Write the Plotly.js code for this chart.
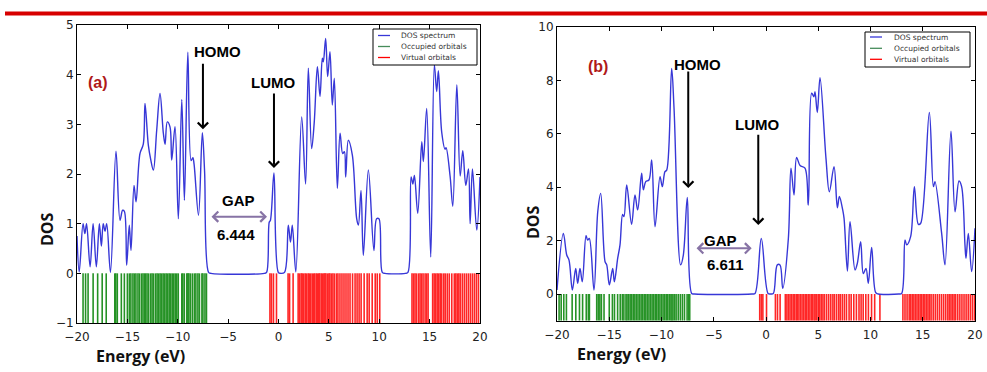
<!DOCTYPE html>
<html><head><meta charset="utf-8">
<script src="https://cdn.plot.ly/plotly-3.0.1.min.js"></script>
<style>html,body{margin:0;padding:0;background:#fff;}#chart{width:987px;height:372px;}</style>
</head><body><div id="chart"></div>
<script>
// ---------- data ----------
const energyTicks = [-20, -15, -10, -5, 0, 5, 10, 15, 20];
const dosTicksA = [-1, 0, 1, 2, 3, 4, 5];
const dosTicksB = [0, 2, 4, 6, 8, 10];
const legendLabels = ['DOS spectrum', 'Occupied orbitals', 'Virtual orbitals'];
const gapA = 6.444;
const gapB = 6.611;

// panel (a) DOS spectrum
const dosEnergyA = [-20, -19.78, -19.4, -19.22, -19.05, -18.7, -18.4, -18.08, -17.78, -17.58,
  -17.4, -17.22, -17.05, -16.68, -16.13, -15.73, -15.47, -15.3, -15.07, -14.81,
  -14.64, -14.34, -14.14, -13.75, -13.42, -13.25, -12.92, -12.69, -12.42, -12.09,
  -11.76, -11.43, -11.26, -11.04, -10.77, -10.6, -10.27, -9.94, -9.6, -9.34,
  -9.0, -8.67, -8.5, -8.38, -7.94, -7.56, -7.34, -6.94, -6.7, -1.4,
  -1.18, -0.92, -0.8, -0.45, -0.02, 0.2, 0.6, 0.97, 1.19, 1.37,
  1.72, 2.3, 2.69, 2.96, 3.29, 3.55, 3.86, 4.12, 4.35, 4.45,
  4.68, 4.88, 5.11, 5.34, 5.54, 5.84, 6.11, 6.37, 6.54, 6.67,
  6.93, 7.33, 7.76, 7.93, 8.19, 8.42, 8.92, 9.47, 9.74, 9.97,
  10.3, 10.55, 12.6, 12.85, 13.16, 13.33, 13.49, 13.82, 14.22, 14.38,
  14.71, 15.11, 15.47, 15.7, 15.87, 16.2, 16.53, 16.63, 17.03, 17.3,
  17.7, 18.03, 18.29, 18.59, 18.86, 19.02, 19.25, 19.68, 20];
const dosValueA = [0.75, 0.03, 1.0, 0.8, 1.0, 0.13, 1.0, 0.13, 1.0, 0.55,
  1.0, 0.85, 1.0, 0.02, 2.46, 1.07, 1.27, 1.25, 0.16, 0.97,
  0.46, 1.77, 1.44, 2.41, 2.6, 3.42, 2.58, 2.3, 2.08, 2.88,
  3.62, 2.82, 2.6, 3.05, 2.95, 2.28, 2.95, 1.1, 3.5, 1.47,
  4.45, 2.27, 2.33, 2.2, 1.17, 2.83, 2.07, 0.02, 0, 0,
  0.02, 1.03, 1.07, 2.02, 0.02, 0, 0.02, 0.97, 0.63, 0.97,
  0.03, 3.15, 1.8, 4.13, 2.51, 3.05, 4.16, 3.56, 4.33, 4.26,
  4.73, 3.96, 4.46, 3.39, 3.93, 1.71, 2.82, 2.41, 2.45, 1.94,
  2.68, 2.38, 1.1, 0.97, 1.67, 0.36, 2.08, 0.46, 1.1, 1.1,
  0.02, 0, 0, 0.02, 1.94, 1.8, 1.97, 1.21, 2.65, 2.25,
  3.32, 0.33, 4.2, 3.66, 4.08, 2.84, 2.5, 2.53, 1.96, 1.35,
  3.8, 1.96, 2.47, 1.77, 2.1, 1.0, 2.1, 0.87, 1.94];
const occupiedA = [-19.4, -19.15, -18.9, -18.4, -17.95, -17.5, -17.1, -16.25, -16.15, -16.0,
  -15.6, -15.3, -15.0, -14.8, -14.65, -14.45, -14.3, -14.15, -13.95, -13.8,
  -13.6, -13.45, -13.3, -13.2, -13.05, -12.9, -12.7, -12.55, -12.4, -12.2,
  -12.05, -11.9, -11.75, -11.6, -11.45, -11.3, -11.15, -11.0, -10.85, -10.7,
  -10.55, -10.4, -10.25, -10.1, -9.95, -9.6, -9.5, -9.35, -9.1, -9.0,
  -8.9, -8.75, -8.55, -8.35, -8.2, -8.0, -7.85, -7.6, -7.5, -7.3, -7.15];
const virtualA = [-0.85, -0.7, -0.5, -0.2, 0.95, 1.1, 1.45, 1.95, 2.1, 2.25,
  2.35, 2.5, 2.65, 2.8, 2.95, 3.05, 3.2, 3.35, 3.5, 3.6,
  3.75, 3.85, 4.0, 4.1, 4.25, 4.35, 4.5, 4.6, 4.7, 4.85,
  5.0, 5.1, 5.25, 5.4, 5.55, 5.75, 5.9, 6.1, 6.3, 6.5,
  6.7, 6.9, 7.1, 7.35, 7.6, 7.8, 8.0, 8.2, 8.5, 8.8,
  9.0, 9.3, 9.6, 9.8, 10.05, 13.25, 13.4, 13.55, 13.7, 13.9,
  14.05, 14.2, 14.35, 14.55, 14.7, 14.85, 15.3, 15.45, 15.6, 15.75,
  15.9, 16.05, 16.2, 16.4, 16.55, 16.75, 16.95, 17.2, 17.45, 17.6,
  17.75, 17.9, 18.05, 18.25, 18.45, 18.65, 18.85, 19.05, 19.25, 19.45, 19.65, 19.85];

// panel (b) DOS spectrum
const dosEnergyB = [-20, -19.39, -19.07, -18.85, -18.53, -18.21, -18.02, -17.8, -17.58, -17.22,
  -17.07, -16.91, -16.46, -16.1, -15.82, -15.4, -15.24, -14.99, -14.67, -14.51,
  -14.19, -13.97, -13.72, -13.59, -13.33, -12.86, -12.54, -12.28, -11.9, -11.74,
  -11.51, -11.2, -10.94, -10.62, -10.14, -9.92, -9.67, -9.5, -9.03, -8.8,
  -8.17, -7.91, -7.53, -7.11, -6.85, -1.35, -1.05, -0.45, 0.2, 0.45,
  0.7, 1.08, 1.34, 1.6, 2.14, 2.39, 2.68, 2.93, 3.26, 3.73,
  4.05, 4.37, 4.59, 4.69, 4.91, 5.17, 5.74, 6.06, 6.51, 6.83,
  7.02, 7.34, 7.47, 7.79, 8.04, 8.52, 8.74, 9.06, 9.31, 9.57,
  9.79, 10.11, 10.5, 10.75, 12.7, 12.98, 13.3, 13.46, 13.84, 14.2,
  14.58, 14.8, 15.63, 16.02, 16.17, 16.81, 17.13, 17.7, 18.09, 18.47,
  18.72, 19.04, 19.14, 19.36, 19.68, 20];
const dosValueB = [0.15, 2.27, 1.46, 1.27, 0.15, 0.96, 0.4, 0.96, 0.46, 2.18,
  2.02, 2.08, 0.15, 3.08, 3.77, 1.21, 1.09, 0.34, 0.96, 0.46,
  1.34, 1.84, 2.98, 2.9, 4.08, 2.61, 3.71, 3.15, 4.52, 3.9,
  4.21, 4.27, 5.02, 2.52, 4.39, 4.02, 4.58, 4.64, 8.45, 6.95,
  1.09, 1.46, 3.62, 0.02, 0, 0, 0.02, 2.08, 0.02, 0,
  0.02, 1.09, 1.09, 0.21, 2.08, 4.71, 3.71, 5.11, 4.81, 4.71,
  3.33, 7.52, 7.39, 7.58, 6.8, 8.1, 5.08, 3.83, 4.77, 3.23,
  3.65, 3.15, 2.83, 0.86, 2.71, 0.9, 1.15, 1.96, 0.77, 0.96,
  0.4, 1.74, 0.05, 0, 0, 0.02, 2.02, 1.84, 2.15, 4.02,
  2.61, 2.65, 6.8, 4.02, 4.21, 2.27, 1.09, 6.1, 3.08, 4.23,
  4.02, 1.84, 1.34, 2.27, 0.84, 2.46];
const occupiedB = [-19.8, -19.6, -19.35, -19.1, -18.55, -18.2, -17.85, -17.55, -17.2, -17.0,
  -16.9, -16.2, -16.05, -15.9, -15.75, -15.5, -15.0, -14.7, -14.5, -14.2,
  -13.95, -13.75, -13.6, -13.4, -13.3, -13.15, -13.0, -12.85, -12.7, -12.55,
  -12.4, -12.25, -12.1, -11.95, -11.8, -11.65, -11.5, -11.35, -11.2, -11.05,
  -10.9, -10.75, -10.6, -10.45, -10.3, -10.15, -10.0, -9.85, -9.7, -9.55,
  -9.4, -9.25, -9.1, -9.0, -8.9, -8.75, -8.6, -8.4, -8.2, -8.0,
  -7.8, -7.55, -7.4, -7.3];
const virtualB = [-0.6, -0.45, -0.3, 0.05, 0.9, 1.1, 1.35, 1.85, 2.0, 2.15,
  2.3, 2.45, 2.6, 2.75, 2.9, 3.0, 3.15, 3.3, 3.45, 3.6,
  3.75, 3.9, 4.05, 4.2, 4.35, 4.45, 4.6, 4.7, 4.85, 5.0,
  5.15, 5.3, 5.45, 5.6, 5.8, 6.0, 6.2, 6.4, 6.55, 6.75,
  6.95, 7.1, 7.3, 7.5, 7.7, 7.95, 8.15, 8.4, 8.65, 8.9,
  9.1, 9.3, 9.55, 9.8, 10.1, 10.4, 10.9, 13.1, 13.3, 13.5,
  13.7, 13.85, 14.0, 14.15, 14.3, 14.45, 14.6, 14.75, 14.9, 15.05,
  15.2, 15.35, 15.5, 15.65, 15.8, 16.0, 16.2, 16.4, 16.6, 16.8,
  17.0, 17.2, 17.4, 17.55, 17.7, 17.85, 18.0, 18.15, 18.35, 18.55,
  18.75, 18.95, 19.15, 19.35, 19.55, 19.75, 19.95];

// ---------- helpers ----------
const W = 987, H = 372;
const px = v => v / W;          // page pixel -> paper x (margins are 0)
const py = v => 1 - v / H;      // page pixel -> paper y

function sticks(energies) {
  const x = [], y = [];
  energies.forEach(e => { x.push(e, e, null); y.push(0, -1, null); });
  return {x, y};
}

const BLUE = 'rgb(55,55,215)';
const GREEN = 'rgb(0,128,0)';
const RED = 'rgb(255,0,0)';

function panelTraces(E, D, occ, virt, xa, ya) {
  const o = sticks(occ), v = sticks(virt);
  return [
    {x: o.x, y: o.y, xaxis: xa, yaxis: ya, type: 'scatter', mode: 'lines',
     line: {color: GREEN, width: 1.6}, opacity: 0.85, name: legendLabels[1], showlegend: false, hoverinfo: 'skip'},
    {x: v.x, y: v.y, xaxis: xa, yaxis: ya, type: 'scatter', mode: 'lines',
     line: {color: RED, width: 1.6}, opacity: 0.85, name: legendLabels[2], showlegend: false, hoverinfo: 'skip'},
    {x: E, y: D, xaxis: xa, yaxis: ya, type: 'scatter', mode: 'lines',
     line: {color: BLUE, width: 1.4, shape: 'spline', smoothing: 1.0}, name: legendLabels[0], showlegend: false}
  ];
}

const data = [
  ...panelTraces(dosEnergyA, dosValueA, occupiedA, virtualA, 'x', 'y'),
  ...panelTraces(dosEnergyB, dosValueB, occupiedB, virtualB, 'x2', 'y2')
];

const tickFont = {family: 'DejaVu Sans', size: 12, color: '#222'};
const minus = v => v < 0 ? '\u2212' + Math.abs(v) : String(v);
function xAxis(domain, anchor) {
  return {domain, anchor, range: [-20, 20], tickvals: energyTicks, ticktext: energyTicks.map(minus),
    ticks: 'inside', ticklen: 4, tickwidth: 1, tickcolor: '#000', showline: true, linecolor: '#000', linewidth: 1,
    mirror: 'ticks', showgrid: false, zeroline: false, tickfont: tickFont, fixedrange: true, ticklabelstandoff: 3};
}
function yAxis(domain, anchor, range, vals) {
  return {domain, anchor, range, tickvals: vals, ticktext: vals.map(minus),
    ticks: 'inside', ticklen: 4, tickwidth: 1, tickcolor: '#000', showline: true, linecolor: '#000', linewidth: 1,
    mirror: 'ticks', showgrid: false, zeroline: false, tickfont: tickFont, fixedrange: true};
}

const bold = (t) => '<b>' + t + '</b>';
const lblFont = {family: 'Liberation Sans', size: 15, color: '#000'};
const panelFont = {family: 'Liberation Sans', size: 16, color: 'rgb(175,25,25)'};
const titleFont = {family: 'Open Sans', size: 16, color: '#111'};
const legFont = {family: 'DejaVu Sans', size: 7.5, color: '#333'};
const GAPCOL = 'rgb(135,115,165)';

function txt(xr, yr, x, y, text, font, extra) {
  return Object.assign({xref: xr, yref: yr, x, y, text, font, showarrow: false, xanchor: 'center', yanchor: 'middle'}, extra || {});
}
function arrow(xr, yr, x, y, ax, ay, color, both) {
  const a = {xref: xr, yref: yr, x, y, ax, ay, axref: xr, ayref: yr, text: '', showarrow: true,
    arrowhead: 4, arrowsize: 1, arrowwidth: 2, arrowcolor: color, standoff: 0, startstandoff: 0};
  if (both) { a.arrowside = 'end+start'; a.startarrowhead = 4; a.startarrowsize = 1; }
  return a;
}

const annotations = [
  // panel (a)
  txt('x', 'y', -17.92, 3.85, bold('(a)'), panelFont),
  txt('x', 'y', -6.1, 4.46, bold('HOMO'), lblFont),
  arrow('x', 'y', -7.5, 2.9, -7.5, 4.25, '#000'),
  txt('x', 'y', -0.55, 3.85, bold('LUMO'), lblFont),
  arrow('x', 'y', -0.45, 2.12, -0.45, 3.65, '#000'),
  txt('x', 'y', -4.0, 1.46, bold('GAP'), lblFont),
  arrow('x', 'y', -1.14, 1.14, -6.8, 1.14, GAPCOL, true),
  txt('x', 'y', -4.2, 0.78, bold(gapA.toFixed(3)), lblFont),
  // panel (b)
  txt('x2', 'y2', -16.08, 8.51, bold('(b)'), panelFont),
  txt('x2', 'y2', -6.51, 8.58, bold('HOMO'), lblFont),
  arrow('x2', 'y2', -7.44, 3.97, -7.44, 8.39, '#000'),
  txt('x2', 'y2', -0.86, 6.33, bold('LUMO'), lblFont),
  arrow('x2', 'y2', -0.74, 2.58, -0.74, 6.02, '#000'),
  txt('x2', 'y2', -4.31, 2.02, bold('GAP'), lblFont),
  arrow('x2', 'y2', -1.37, 1.71, -6.79, 1.71, GAPCOL, true),
  txt('x2', 'y2', -3.83, 1.12, bold(gapB.toFixed(3)), lblFont),
  // axis titles
  txt('paper', 'paper', px(140), py(356), bold('Energy (eV)'), titleFont),
  txt('paper', 'paper', px(47), py(229), bold('DOS'), titleFont, {textangle: -90}),
  txt('paper', 'paper', px(621), py(354), bold('Energy (eV)'), titleFont),
  txt('paper', 'paper', px(533), py(222), bold('DOS'), titleFont, {textangle: -90}),
];

const shapes = [
  {type: 'rect', xref: 'paper', yref: 'paper', x0: px(5), x1: 1, y0: py(15.5), y1: py(11.5),
   fillcolor: 'rgb(215,0,0)', line: {width: 0}}
];

// manual legends (matplotlib style)
function addLegend(box, sampleX0, sampleX1, textX, rows) {
  shapes.push({type: 'rect', xref: 'paper', yref: 'paper', x0: px(box[0]), x1: px(box[1]), y0: py(box[3]), y1: py(box[2]),
    fillcolor: '#fff', line: {color: '#000', width: 1}});
  const cols = [BLUE, 'rgb(70,140,90)', RED];
  rows.forEach((r, i) => {
    shapes.push({type: 'line', xref: 'paper', yref: 'paper', x0: px(sampleX0), x1: px(sampleX1), y0: py(r), y1: py(r),
      line: {color: cols[i], width: 1.3}});
    annotations.push(txt('paper', 'paper', px(textX), py(r), legendLabels[i], legFont, {xanchor: 'left'}));
  });
}
addLegend([373, 477, 29, 65], 378, 390, 399, [35.5, 46.5, 57.5]);
addLegend([865, 970, 32, 67], 870, 882, 892, [37, 48.3, 59.3]);

const layout = {
  width: W, height: H,
  margin: {l: 0, r: 0, t: 0, b: 0},
  paper_bgcolor: '#fff', plot_bgcolor: '#fff',
  showlegend: false,
  xaxis: xAxis([px(77), px(480)], 'y'),
  yaxis: yAxis([py(323), py(25)], 'x', [-1, 5], dosTicksA),
  xaxis2: xAxis([px(557), px(975)], 'y2'),
  yaxis2: yAxis([py(320.7), py(27)], 'x2', [-1, 10], dosTicksB),
  annotations, shapes
};

Plotly.newPlot('chart', data, layout, {displayModeBar: false, staticPlot: true});
</script>
</body></html>
